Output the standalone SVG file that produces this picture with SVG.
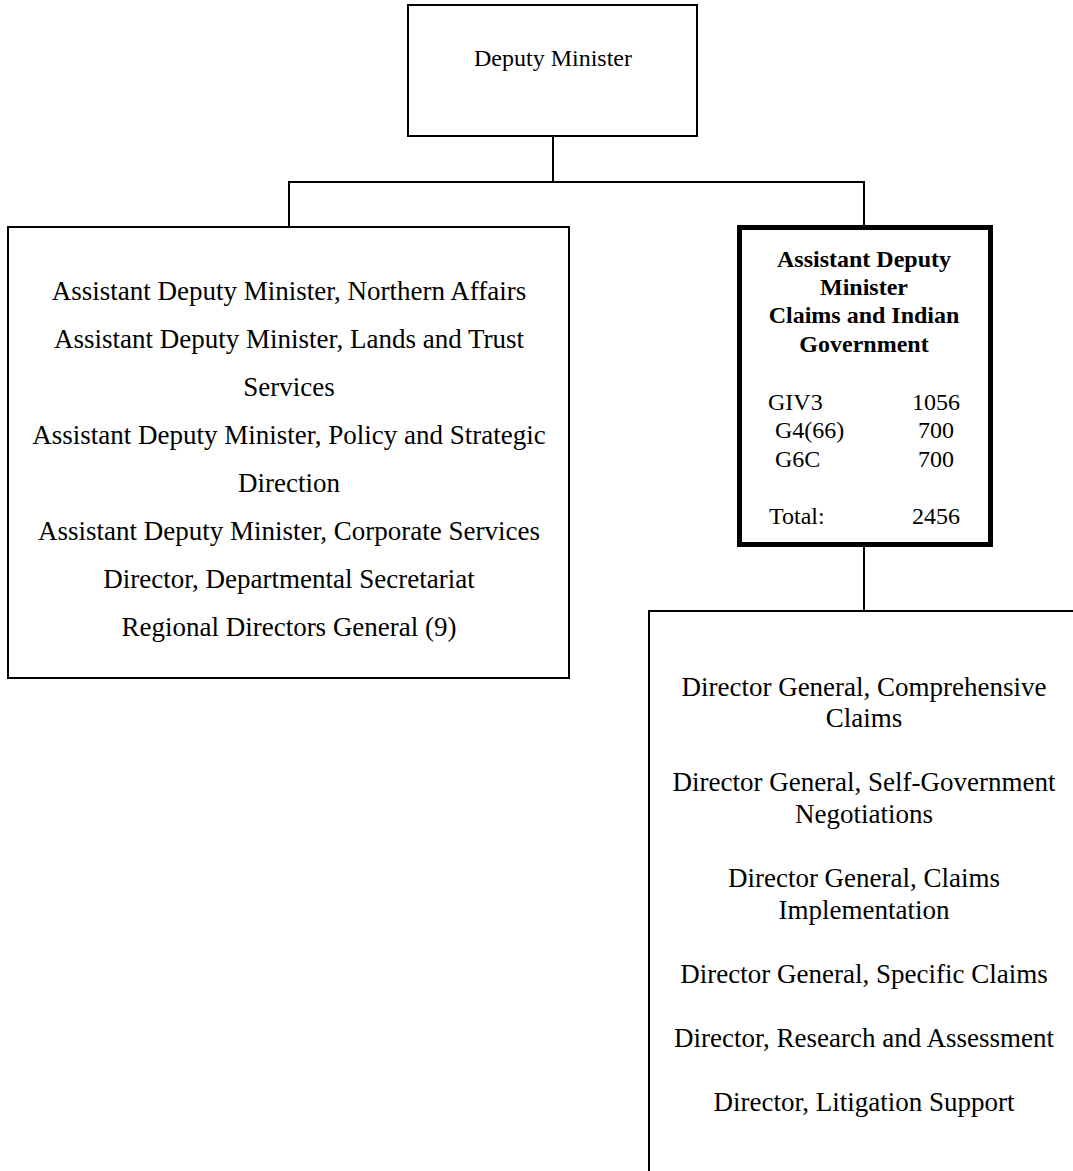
<svg xmlns="http://www.w3.org/2000/svg" width="1073" height="1171" viewBox="0 0 1073 1171">
  <style>
    .box { fill: #fff; stroke: #000; stroke-width: 2; }
    .thick { fill: #fff; stroke: #000; stroke-width: 5; }
    .wire { fill: none; stroke: #000; stroke-width: 2; }
    text { font-family: "Liberation Serif", "Times New Roman", serif; fill: #000; }
    .t { font-size: 27px; text-anchor: middle; }
    .s { font-size: 24px; }
    .b { font-size: 24px; font-weight: bold; text-anchor: middle; }
    .r { text-anchor: end; }
  </style>
  <rect width="1073" height="1171" fill="#fff"/>

  <g id="connectors">
    <line class="wire" x1="553" y1="136" x2="553" y2="182"/>
    <line class="wire" x1="288" y1="182" x2="865" y2="182"/>
    <line class="wire" x1="289" y1="182" x2="289" y2="227"/>
    <line class="wire" x1="864" y1="182" x2="864" y2="227"/>
    <line class="wire" x1="864" y1="547" x2="864" y2="611"/>
  </g>

  <g id="deputy-minister">
    <rect class="box" x="408" y="5" width="289" height="131"/>
    <text class="s" x="553" y="66" text-anchor="middle">Deputy Minister</text>
  </g>

  <g id="adm-group">
    <rect class="box" x="8" y="227" width="561" height="451"/>
    <text class="t" x="289" y="300">Assistant Deputy Minister, Northern Affairs</text>
    <text class="t" x="289" y="348">Assistant Deputy Minister, Lands and Trust</text>
    <text class="t" x="289" y="396">Services</text>
    <text class="t" x="289" y="444">Assistant Deputy Minister, Policy and Strategic</text>
    <text class="t" x="289" y="492">Direction</text>
    <text class="t" x="289" y="540">Assistant Deputy Minister, Corporate Services</text>
    <text class="t" x="289" y="588">Director, Departmental Secretariat</text>
    <text class="t" x="289" y="636">Regional Directors General (9)</text>
  </g>

  <g id="adm-claims">
    <rect class="thick" x="739.5" y="227.5" width="251" height="317"/>
    <text class="b" x="864" y="267">Assistant Deputy</text>
    <text class="b" x="864" y="295">Minister</text>
    <text class="b" x="864" y="323">Claims and Indian</text>
    <text class="b" x="864" y="352">Government</text>
    <text class="s" x="768" y="410">GIV3</text>
    <text class="s r" x="960" y="410">1056</text>
    <text class="s" x="775" y="438">G4(66)</text>
    <text class="s r" x="954" y="438">700</text>
    <text class="s" x="775" y="467">G6C</text>
    <text class="s r" x="954" y="467">700</text>
    <text class="s" x="769" y="524">Total:</text>
    <text class="s r" x="960" y="524">2456</text>
  </g>

  <g id="dg-group">
    <rect class="box" x="649" y="611" width="440" height="600"/>
    <text class="t" x="864" y="696">Director General, Comprehensive</text>
    <text class="t" x="864" y="727">Claims</text>
    <text class="t" x="864" y="791">Director General, Self-Government</text>
    <text class="t" x="864" y="823">Negotiations</text>
    <text class="t" x="864" y="887">Director General, Claims</text>
    <text class="t" x="864" y="919">Implementation</text>
    <text class="t" x="864" y="983">Director General, Specific Claims</text>
    <text class="t" x="864" y="1047">Director, Research and Assessment</text>
    <text class="t" x="864" y="1111">Director, Litigation Support</text>
  </g>
</svg>
